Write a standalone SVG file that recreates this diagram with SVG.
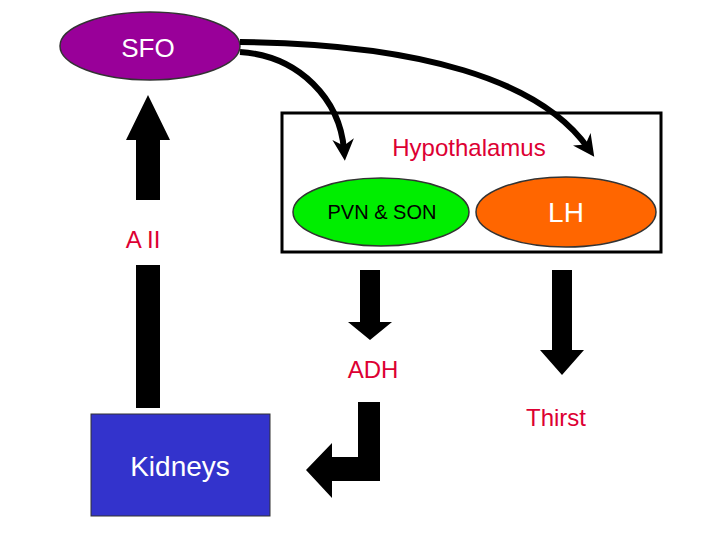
<svg xmlns="http://www.w3.org/2000/svg" width="720" height="540" viewBox="0 0 720 540">
<style>
text{font-family:"Liberation Sans",Arial,sans-serif}
.red{fill:#dd0033;font-size:24px}
.blk{fill:#000}
.nd{stroke:#333;stroke-width:1.5}
</style>
<defs>
<marker id="ah" viewBox="0 0 10 10" refX="5" refY="5" markerWidth="3.6" markerHeight="3.6" orient="auto" markerUnits="strokeWidth">
<path d="M0,0 L10,5 L0,10 L3,5 Z" fill="#000"/>
</marker>
</defs>
<rect width="720" height="540" fill="#fff"/>
<g id="hypothalamus">
<rect x="282" y="113" width="379" height="139" fill="none" stroke="#000" stroke-width="3"/>
<text x="469" y="156" class="red" text-anchor="middle">Hypothalamus</text>
</g>
<g id="sfo">
<ellipse cx="150" cy="46" rx="90" ry="34" fill="#990099" class="nd"/>
<text x="148" y="57" text-anchor="middle" font-size="26" fill="#fff">SFO</text>
</g>
<g id="pvn">
<ellipse cx="381" cy="212" rx="88" ry="34" fill="#00ee00" class="nd"/>
<text x="382" y="219" text-anchor="middle" font-size="20" fill="#000">PVN &amp; SON</text>
</g>
<g id="lh">
<ellipse cx="566" cy="212" rx="90" ry="35" fill="#ff6600" class="nd"/>
<text x="566" y="222" text-anchor="middle" font-size="28" fill="#fff">LH</text>
</g>
<g id="kidneys">
<rect x="91" y="414" width="179" height="102" fill="#3333cc" stroke="#333" stroke-width="1"/>
<text x="180" y="476" text-anchor="middle" font-size="28" fill="#fff">Kidneys</text>
</g>
<text x="143" y="248" class="red" text-anchor="middle">A II</text>
<text x="373" y="378" class="red" text-anchor="middle">ADH</text>
<text x="556" y="426" class="red" text-anchor="middle">Thirst</text>
<g id="connectors">
<path d="M240,42 C420,44 540,80 588,148" fill="none" stroke="#000" stroke-width="6" marker-end="url(#ah)"/>
<path d="M240,52 C300,56 340,100 344,150" fill="none" stroke="#000" stroke-width="6" marker-end="url(#ah)"/>
<path class="blk" d="M148,95 L170,140 L160,140 L160,200 L136,200 L136,140 L126,140 Z"/>
<rect class="blk" x="136" y="265" width="24" height="143"/>
<path class="blk" d="M360,270 L380,270 L380,322 L392,322 L370,340 L348,322 L360,322 Z"/>
<path class="blk" d="M552,270 L572,270 L572,350 L584,350 L562,375 L540,350 L552,350 Z"/>
<path class="blk" d="M358,402 L380,402 L380,481 L332,481 L332,498 L306,470 L332,443 L332,457 L358,457 Z"/>
</g>
</svg>
